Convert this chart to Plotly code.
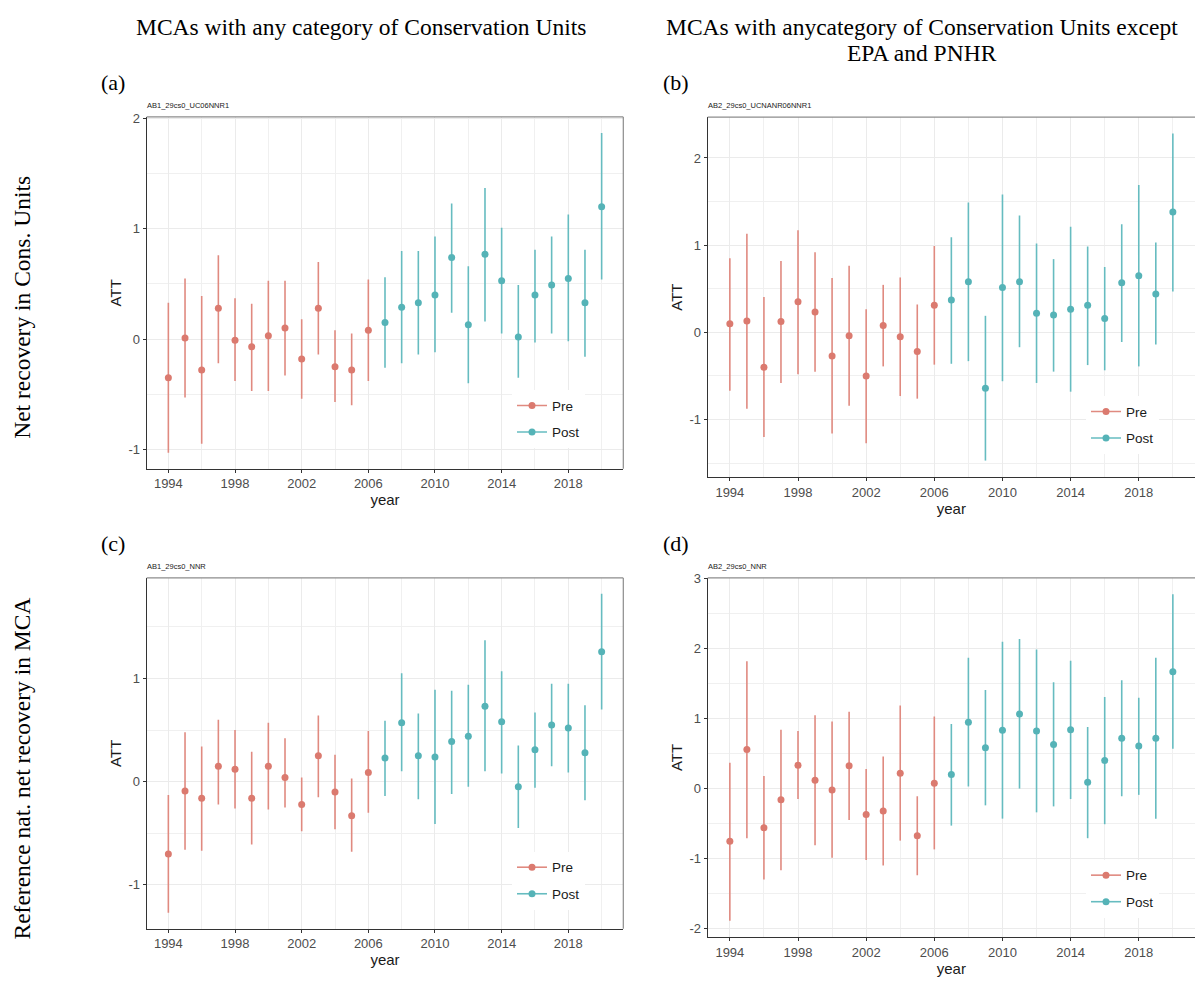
import math
import plotly.graph_objects as go

# Event-study estimates (ATT) with 95% confidence bounds, by year
years_pre = [1994, 1995, 1996, 1997, 1998, 1999, 2000, 2001, 2002, 2003, 2004, 2005, 2006]
years_post = [2007, 2008, 2009, 2010, 2011, 2012, 2013, 2014, 2015, 2016, 2017, 2018, 2019, 2020]

# (a) AB1_29cs0_UC06NNR1
a_pre_att = [-0.35, 0.01, -0.28, 0.28, -0.01, -0.07, 0.03, 0.10, -0.18, 0.28, -0.25, -0.28, 0.08]
a_pre_lo = [-1.03, -0.53, -0.95, -0.22, -0.38, -0.47, -0.47, -0.33, -0.54, -0.14, -0.57, -0.60, -0.38]
a_pre_hi = [0.33, 0.55, 0.39, 0.76, 0.37, 0.32, 0.53, 0.53, 0.18, 0.70, 0.08, 0.05, 0.54]
a_post_att = [0.15, 0.29, 0.33, 0.40, 0.74, 0.13, 0.77, 0.53, 0.02, 0.40, 0.49, 0.55, 0.33, 1.20]
a_post_lo = [-0.26, -0.22, -0.14, -0.12, 0.24, -0.40, 0.16, 0.05, -0.35, -0.03, 0.05, -0.02, -0.16, 0.54]
a_post_hi = [0.56, 0.80, 0.80, 0.93, 1.23, 0.66, 1.37, 1.01, 0.49, 0.81, 0.93, 1.13, 0.81, 1.87]

# (b) AB2_29cs0_UCNANR06NNR1
b_pre_att = [0.10, 0.13, -0.40, 0.125, 0.35, 0.235, -0.27, -0.04, -0.50, 0.08, -0.05, -0.22, 0.31]
b_pre_lo = [-0.67, -0.875, -1.20, -0.58, -0.48, -0.45, -1.16, -0.84, -1.27, -0.39, -0.73, -0.76, -0.37]
b_pre_hi = [0.85, 1.13, 0.405, 0.82, 1.17, 0.92, 0.625, 0.765, 0.265, 0.545, 0.63, 0.32, 0.99]
b_post_att = [0.37, 0.58, -0.64, 0.515, 0.58, 0.22, 0.20, 0.265, 0.31, 0.16, 0.57, 0.65, 0.44, 1.38]
b_post_lo = [-0.36, -0.33, -1.47, -0.56, -0.17, -0.58, -0.45, -0.68, -0.375, -0.435, -0.11, -0.39, -0.14, 0.47]
b_post_hi = [1.09, 1.49, 0.19, 1.58, 1.34, 1.02, 0.84, 1.21, 0.985, 0.75, 1.24, 1.69, 1.03, 2.28]

# (c) AB1_29cs0_NNR
c_pre_att = [-0.70, -0.09, -0.16, 0.15, 0.12, -0.16, 0.15, 0.04, -0.22, 0.25, -0.10, -0.33, 0.09]
c_pre_lo = [-1.27, -0.66, -0.67, -0.22, -0.26, -0.61, -0.27, -0.25, -0.48, -0.15, -0.46, -0.68, -0.30]
c_pre_hi = [-0.13, 0.48, 0.34, 0.60, 0.50, 0.29, 0.57, 0.42, 0.04, 0.64, 0.26, 0.03, 0.49]
c_post_att = [0.23, 0.57, 0.25, 0.24, 0.39, 0.44, 0.73, 0.58, -0.05, 0.31, 0.55, 0.52, 0.28, 1.26]
c_post_lo = [-0.14, 0.10, -0.17, -0.41, -0.12, -0.05, 0.10, 0.08, -0.45, -0.06, 0.15, 0.09, -0.18, 0.70]
c_post_hi = [0.59, 1.05, 0.66, 0.89, 0.88, 0.94, 1.37, 1.07, 0.35, 0.67, 0.95, 0.95, 0.74, 1.82]

# (d) AB2_29cs0_NNR
d_pre_att = [-0.755, 0.56, -0.56, -0.16, 0.335, 0.12, -0.02, 0.325, -0.37, -0.32, 0.22, -0.675, 0.075]
d_pre_lo = [-1.89, -0.71, -1.30, -1.17, -0.15, -0.81, -0.99, -0.45, -1.02, -1.10, -0.745, -1.24, -0.87]
d_pre_hi = [0.37, 1.82, 0.18, 0.84, 0.825, 1.05, 0.96, 1.10, 0.28, 0.46, 1.19, -0.11, 1.03]
d_post_att = [0.20, 0.95, 0.585, 0.835, 1.065, 0.825, 0.63, 0.84, 0.09, 0.40, 0.72, 0.61, 0.72, 1.67]
d_post_lo = [-0.53, 0.03, -0.24, -0.43, 0.0, -0.34, -0.255, -0.15, -0.71, -0.51, -0.11, -0.09, -0.43, 0.57]
d_post_hi = [0.925, 1.87, 1.41, 2.10, 2.14, 1.99, 1.52, 1.83, 0.88, 1.31, 1.55, 1.30, 1.87, 2.78]

x_ticks = [1994, 1998, 2002, 2006, 2010, 2014, 2018]

W, H = 1197, 982
PRE_PT, PRE_LINE = "#DB7A6F", "#E08A80"
POST_PT, POST_LINE = "#55B3B7", "#66BCC0"
SANS = "Liberation Sans, Arial, sans-serif"
SERIF = "Liberation Serif, Times New Roman, serif"
SERIF_SIZE = 23.5

# panel geometry in pixels: left, right, top, bottom, legend left, legend top
panels = [
    dict(tag="AB1_29cs0_UC06NNR1", box=(146.7, 623.3, 110.7, 465.0), leg=(512, 386),
         pre=(a_pre_att, a_pre_lo, a_pre_hi), post=(a_post_att, a_post_lo, a_post_hi), full=True),
    dict(tag="AB2_29cs0_UCNANR06NNR1", box=(707.7, 1195.0, 111.0, 473.3), leg=(1086, 392),
         pre=(b_pre_att, b_pre_lo, b_pre_hi), post=(b_post_att, b_post_lo, b_post_hi), full=False),
    dict(tag="AB1_29cs0_NNR", box=(146.7, 623.3, 575.0, 928.3), leg=(512, 851),
         pre=(c_pre_att, c_pre_lo, c_pre_hi), post=(c_post_att, c_post_lo, c_post_hi), full=True),
    dict(tag="AB2_29cs0_NNR", box=(707.7, 1195.0, 575.0, 936.7), leg=(1086, 859),
         pre=(d_pre_att, d_pre_lo, d_pre_hi), post=(d_post_att, d_post_lo, d_post_hi), full=False),
]

fig = go.Figure()
annotations = []
shapes = []
layout_axes = {}


def px(x):
    return x / W


def py(y):
    return 1 - y / H


def fmt(v):
    # ASCII hyphen for negatives, as R prints them
    return str(int(v)) if float(v).is_integer() else str(v)


for i, p in enumerate(panels):
    n = "" if i == 0 else str(i + 1)
    xa, ya = "x" + n, "y" + n
    leg = "legend" + n
    left, right, top, bottom = p["box"]

    groups = [("Pre", years_pre, p["pre"], PRE_PT, PRE_LINE),
              ("Post", years_post, p["post"], POST_PT, POST_LINE)]
    all_lo, all_hi = [], []
    for name, yrs, (att, lo, hi), cpt, cln in groups:
        all_lo += lo
        all_hi += hi
        fig.add_trace(go.Scatter(
            x=yrs, y=att, mode="markers", name=name, showlegend=False,
            xaxis=xa, yaxis=ya,
            marker=dict(color=cpt, size=7),
            error_y=dict(type="data", symmetric=False,
                         array=[h - a for h, a in zip(hi, att)],
                         arrayminus=[a - l for a, l in zip(att, lo)],
                         color=cln, thickness=1.6, width=0),
        ))
        # legend key (line through a dot)
        fig.add_trace(go.Scatter(
            x=[None], y=[None], mode="lines+markers", name=name,
            legend=leg, legendgroup=name, xaxis=xa, yaxis=ya,
            line=dict(color=cln, width=1.6), marker=dict(color=cpt, size=7),
        ))

    # ggplot-style 5% expansion of the data range
    lo_v, hi_v = min(all_lo), max(all_hi)
    pad = 0.05 * (hi_v - lo_v)
    yr = [lo_v - pad, hi_v + pad]
    xr = [1994 - 0.05 * 26, 2020 + 0.05 * 26]
    y_ticks = list(range(math.ceil(yr[0]), math.floor(yr[1]) + 1))

    axis_common = dict(
        showgrid=True, gridcolor="#EBEBEB", gridwidth=1,
        zeroline=False, showline=True, linecolor="#333333", linewidth=1,
        ticks="outside", ticklen=3, tickcolor="#333333", tickwidth=1,
        tickfont=dict(family=SANS, size=13, color="#4D4D4D"),
    )
    layout_axes["xaxis" + n] = dict(
        axis_common, domain=[px(left), px(right)], range=xr, anchor=ya,
        tickmode="array", tickvals=x_ticks, ticktext=[str(t) for t in x_ticks],
        minor=dict(dtick=2, tick0=1994, showgrid=True, gridcolor="#F0F0F0", gridwidth=1, ticks=""),
        title=dict(text="year", font=dict(family=SANS, size=15, color="#1A1A1A"), standoff=0),
    )
    layout_axes["yaxis" + n] = dict(
        axis_common, domain=[py(bottom), py(top)], range=yr, anchor=xa,
        tickmode="array", tickvals=y_ticks, ticktext=[fmt(t) for t in y_ticks],
        minor=dict(dtick=0.5, tick0=0, showgrid=True, gridcolor="#F0F0F0", gridwidth=1, ticks=""),
        title=dict(text="ATT", font=dict(family=SANS, size=15, color="#1A1A1A"), standoff=3),
    )

    lx, ly = p["leg"]
    layout_axes[leg] = dict(
        x=px(lx), y=py(ly), xanchor="left", yanchor="top",
        bgcolor="white", borderwidth=0, traceorder="grouped", tracegroupgap=6,
        font=dict(family=SANS, size=13.5, color="#1A1A1A"),
    )

    # panel border: light grey on top (and right for the left column)
    shapes.append(dict(type="line", xref="paper", yref="paper",
                       x0=px(left), x1=px(right), y0=py(top), y1=py(top),
                       line=dict(color="#8C8C8C", width=1.2)))
    if p["full"]:
        shapes.append(dict(type="line", xref="paper", yref="paper",
                           x0=px(right), x1=px(right), y0=py(top), y1=py(bottom),
                           line=dict(color="#8C8C8C", width=1.2)))

    annotations.append(dict(
        text=p["tag"], xref="paper", yref="paper", x=px(left - 2), y=py(top - 5),
        xanchor="left", yanchor="bottom", showarrow=False,
        font=dict(family=SANS, size=7.5, color="#222222"),
    ))

# panel letters
for label, x, y in [("(a)", 99, 76), ("(b)", 661, 76), ("(c)", 99, 540), ("(d)", 661, 540)]:
    annotations.append(dict(text=label, xref="paper", yref="paper", x=px(x), y=py(y),
                            xanchor="left", yanchor="middle", showarrow=False,
                            font=dict(family=SERIF, size=22, color="black")))

# column headings
for text, x, y in [("MCAs with any category of Conservation Units", 361, 20),
                   ("MCAs with anycategory of Conservation Units except", 922, 20),
                   ("EPA and PNHR", 922, 46)]:
    annotations.append(dict(text=text, xref="paper", yref="paper", x=px(x), y=py(y),
                            xanchor="center", yanchor="middle", showarrow=False,
                            font=dict(family=SERIF, size=SERIF_SIZE, color="black")))

# row headings
for text, y in [("Net recovery in Cons. Units", 303), ("Reference nat. net recovery in MCA", 767)]:
    annotations.append(dict(text=text, xref="paper", yref="paper",
                            x=px(22), y=py(y), xanchor="center", yanchor="middle",
                            textangle=-90, showarrow=False,
                            font=dict(family=SERIF, size=SERIF_SIZE, color="black")))

fig.update_layout(
    width=W, height=H, margin=dict(l=0, r=0, t=0, b=0),
    paper_bgcolor="white", plot_bgcolor="white",
    annotations=annotations, shapes=shapes,
    **layout_axes,
)

fig.write_html("out.html")
